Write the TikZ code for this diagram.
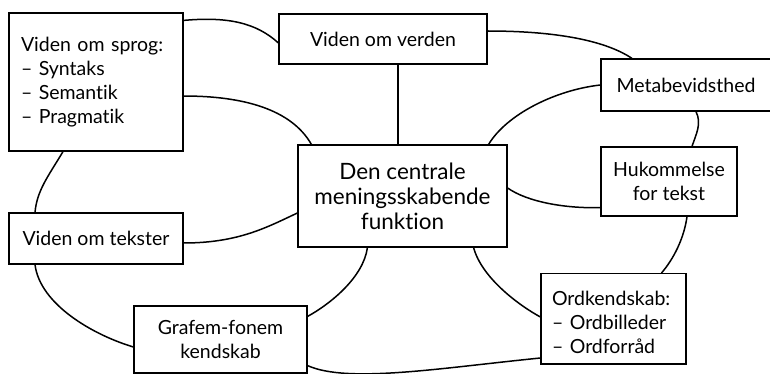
\documentclass[tikz,border=0pt]{standalone}
\usepackage{fontspec}
\setmainfont{Lato}[Ligatures={NoCommon}]

\begin{document}
\begin{tikzpicture}[x=1pt, y=-1pt,
  box/.style={draw, line width=1.2pt, inner sep=4pt, align=center, font=\fontsize{19.5}{24}\selectfont},
  listbox/.style={box, align=left},
  link/.style={line width=1.5pt}
]
\useasboundingbox (0,0) rectangle (770,374);

% Knowledge boxes
\node[listbox, minimum height=138pt, text width=150pt, inner xsep=12pt] (sprog) at (96,82) {Viden om sprog:\\– Syntaks\\– Semantik\\– Pragmatik};
\node[box, minimum width=208pt, minimum height=50pt] (verden) at (383,39) {Viden om verden};
\node[box, minimum width=170pt, minimum height=52pt] (metab) at (686,85) {Metabevidsthed};
\node[box, minimum width=136pt, minimum height=69pt] (huk) at (669,181.5) {Hukommelse\\for tekst};
\node[box, minimum width=174pt, minimum height=51pt] (tekster) at (96,238.5) {Viden om tekster};
\node[box, minimum width=173pt, minimum height=67pt] (grafem) at (220.5,339.5) {Grafem-fonem\\kendskab};
\node[listbox, anchor=north, text width=123pt, inner xsep=11pt, inner ysep=18pt, text depth=40pt] (ordk) at (613.5,273) {Ordkendskab:\\– Ordbilleder\\– Ordforråd};

% Centre
\node[box, font=\fontsize{22.5}{25}\selectfont, minimum width=209pt, minimum height=102pt] (central) at (402.5,196) {Den centrale\\meningsskabende\\funktion};

% Links
\draw[link] ([yshift=-8pt]sprog.north east) .. controls +(45,-4) and +(-22,-20) .. ([yshift=-4pt]verden.west);
\draw[link] ([yshift=-14pt]sprog.east) .. controls +(60,0) and +(-20,-35) .. ([xshift=14pt]central.north west);
\draw[link] ([xshift=15pt]verden.south) -- ([xshift=-4.5pt]central.north);
\draw[link] ([yshift=8pt]verden.east) .. controls +(60,0) and +(-30,-20) .. ([xshift=-54pt]metab.north);
\draw[link] (metab.west) .. controls +(-45,5) and +(18,-30) .. ([xshift=-19pt]central.north east);
\draw[link] ([xshift=10pt]metab.south) .. controls +(6,12) and +(4,-12) .. ([xshift=23pt]huk.north);
\draw[link] ([yshift=8pt]central.east) .. controls +(20,14) and +(-35,1) .. ([yshift=9pt]huk.south west);
\draw[link] ([xshift=18pt]huk.south) .. controls +(-3,22) and +(12,-14) .. ([xshift=48pt]ordk.north);
\draw[link] ([xshift=-34pt]central.south east) .. controls +(8,30) and +(-22,-12) .. ([yshift=-44pt]ordk.north west);
\draw[link] ([yshift=8pt]grafem.south east) .. controls +(40,18) and +(-100,10) .. ([yshift=-85pt]ordk.north west);
\draw[link] ([xshift=70pt]central.south west) .. controls +(-4,30) and +(22,-12) .. ([yshift=-11pt]grafem.north east);
\draw[link] ([yshift=-4.5pt]tekster.east) .. controls +(55,0) and +(-30,14) .. ([yshift=-17pt]central.west);
\draw[link] ([xshift=-33pt]sprog.south) .. controls +(-15,25) and +(2,-22) .. ([xshift=-61pt]tekster.north);
\draw[link] ([xshift=-61pt]tekster.south) .. controls +(5,40) and +(-40,-12) .. ([yshift=-7.5pt]grafem.west);

\end{tikzpicture}
\end{document}
